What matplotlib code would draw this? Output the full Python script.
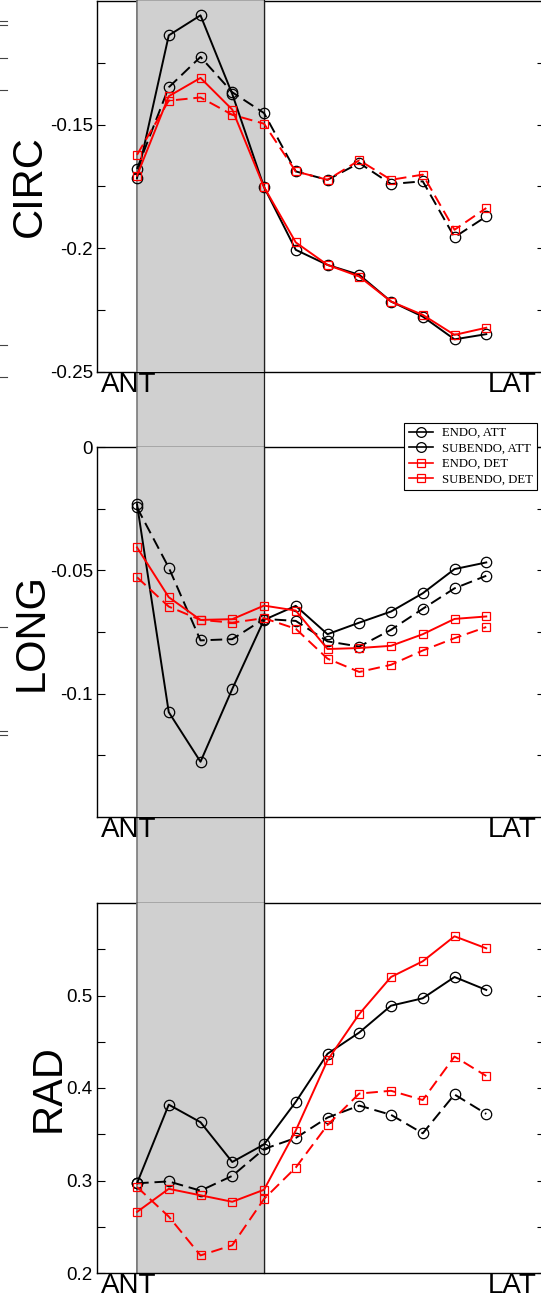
import numpy as np
import matplotlib.pyplot as plt
from matplotlib.lines import Line2D
from matplotlib.patches import Rectangle
from matplotlib.transforms import blended_transform_factory

W, H = 541, 1302  # output size in pixels

# segment index along the wall, ANT -> LAT
x = np.arange(1, 13)

circ_endo_att = [-0.1716, -0.1139, -0.1058, -0.1376, -0.1752, -0.2006, -0.2067, -0.2107, -0.2215, -0.2276, -0.2368, -0.2347]
circ_sub_att = [-0.1679, -0.1349, -0.1226, -0.1369, -0.1453, -0.1689, -0.1723, -0.1655, -0.1740, -0.1729, -0.1955, -0.1871]
circ_endo_det = [-0.1706, -0.1385, -0.1311, -0.1439, -0.1752, -0.1976, -0.2067, -0.2114, -0.2215, -0.2269, -0.2350, -0.2321]
circ_sub_det = [-0.1622, -0.1403, -0.1390, -0.1460, -0.1496, -0.1689, -0.1723, -0.1644, -0.1723, -0.1702, -0.1925, -0.1837]

long_endo_att = [-0.0232, -0.1075, -0.1276, -0.0981, -0.0701, -0.0644, -0.0759, -0.0712, -0.0667, -0.0593, -0.0495, -0.0468]
long_sub_att = [-0.0245, -0.0489, -0.0784, -0.0779, -0.0697, -0.0705, -0.0788, -0.0809, -0.0741, -0.0656, -0.0573, -0.0522]
long_endo_det = [-0.0407, -0.0609, -0.0701, -0.0698, -0.0643, -0.0663, -0.0819, -0.0815, -0.0806, -0.0759, -0.0697, -0.0687]
long_sub_det = [-0.0528, -0.0647, -0.0701, -0.0712, -0.0694, -0.0737, -0.0858, -0.0912, -0.0883, -0.0825, -0.0775, -0.0730]

rad_endo_att = [0.297, 0.382, 0.363, 0.320, 0.339, 0.385, 0.437, 0.460, 0.489, 0.497, 0.520, 0.506]
rad_sub_att = [0.297, 0.299, 0.289, 0.305, 0.334, 0.346, 0.368, 0.381, 0.371, 0.351, 0.393, 0.372]
rad_endo_det = [0.266, 0.291, 0.284, 0.277, 0.290, 0.354, 0.430, 0.480, 0.520, 0.537, 0.564, 0.551]
rad_sub_det = [0.293, 0.261, 0.219, 0.230, 0.280, 0.314, 0.360, 0.394, 0.397, 0.387, 0.434, 0.413]

labels = ['ENDO, ATT', 'SUBENDO, ATT', 'ENDO, DET', 'SUBENDO, DET']
colors = ['black', 'black', 'red', 'red']
markers = ['o', 'o', 's', 's']
dashed = [False, True, False, True]

band = (1, 5)  # shaded segments
x_ticks = [0.73, 12.81]
x_ticklabels = ['ANT', 'LAT']

panels = [
    ('CIRC', [circ_endo_att, circ_sub_att, circ_endo_det, circ_sub_det], (-0.25, -0.1),
     [-0.25, -0.2, -0.15], ['-0.25', '-0.2', '-0.15'], [-0.225, -0.175, -0.125], (1, 372), 30),
    ('LONG', [long_endo_att, long_sub_att, long_endo_det, long_sub_det], (-0.15, 0.0),
     [-0.1, -0.05, 0.0], ['-0.1', '-0.05', '0'], [-0.125, -0.075, -0.025], (447, 817), 32),
    ('RAD', [rad_endo_att, rad_sub_att, rad_endo_det, rad_sub_det], (0.2, 0.6),
     [0.2, 0.3, 0.4, 0.5], ['0.2', '0.3', '0.4', '0.5'], [0.25, 0.35, 0.45, 0.55], (903, 1273), 49),
]

plt.rcParams['font.family'] = ['Liberation Sans', 'DejaVu Sans']

fig = plt.figure(figsize=(W / 100, H / 100), dpi=100)
left_px, right_px = 97, 545

axes = []
for name, series, ylim, yt, ytl, ymin, (top, bot), lab_x in panels:
    ax = fig.add_axes([left_px / W, 1 - bot / H, (right_px - left_px) / W, (bot - top) / H])
    ax.set_facecolor('none')
    for sp in ax.spines.values():
        sp.set_linewidth(1.0)
    ax.axvspan(band[0], band[1], color='#d0d0d0', lw=0, zorder=2.6)
    ax.axvline(band[0], color='#7a7a7a', lw=1.2, zorder=2.65)
    ax.axvline(band[1], color='#202020', lw=0.9, zorder=2.65)
    for s, c, m, d in zip(series, colors, markers, dashed):
        ax.plot(x, s, color=c, lw=1.4, marker=m, mfc='none', mec=c,
                ms=7.5 if m == 'o' else 6, mew=0.9,
                dashes=(6, 3) if d else (None, None), zorder=3)
    ax.set_xlim(-0.26, 13.85)
    ax.set_ylim(*ylim)
    ax.set_yticks(yt, ytl)
    ax.set_yticks(ymin, minor=True)
    ax.set_xticks(x_ticks, x_ticklabels)
    ax.tick_params(axis='x', length=0, pad=0, labelsize=20)
    ax.tick_params(axis='y', which='both', direction='in', left=True, right=True,
                   width=0.8, labelsize=13.5, pad=3)
    ax.tick_params(axis='y', which='major', length=6)
    ax.tick_params(axis='y', which='minor', length=6)
    fig.text(lab_x / W, 1 - (top + bot) / 2 / H, name, rotation=90,
             ha='center', va='center', fontsize=30)
    axes.append(ax)

axes[2].spines['bottom'].set_zorder(2.8)

# band between the panels
trans = blended_transform_factory(axes[0].transData, fig.transFigure)
fig.add_artist(Rectangle((band[0], 1 - 1273 / H), band[1] - band[0], 1273 / H,
                         transform=trans, facecolor='#d0d0d0', lw=0, zorder=-1))
fig.add_artist(Line2D([band[0]] * 2, [1 - 1273 / H, 1], transform=trans,
                      color='#7a7a7a', lw=1.2, zorder=-0.5))
fig.add_artist(Line2D([band[1]] * 2, [1 - 1273 / H, 1], transform=trans,
                      color='#202020', lw=0.9, zorder=-0.5))

# stray tick marks of the neighbouring panel at the left edge
for yy in [21, 25, 58, 90, 345, 377, 627, 731, 735]:
    fig.add_artist(Line2D([0, 7 / W], [1 - yy / H] * 2, color='#444444', lw=0.8))

handles = [Line2D([], [], color=c, marker=m, mfc='none', mec=c, lw=1.2,
                  ms=7 if m == 'o' else 6, mew=0.9)
           for c, m in zip(colors, markers)]
leg = axes[1].legend(handles, labels, loc='upper right',
                     bbox_to_anchor=(537 / W, 1 - 423 / H), bbox_transform=fig.transFigure,
                     borderaxespad=0, fancybox=False, framealpha=1, edgecolor='black',
                     prop={'family': 'Liberation Serif', 'size': 9.2},
                     handlelength=1.9, handletextpad=0.7, labelspacing=0.27, borderpad=0.33)
leg.get_frame().set_linewidth(0.8)
leg.set_zorder(5)

fig.savefig('out.png', dpi=100)
